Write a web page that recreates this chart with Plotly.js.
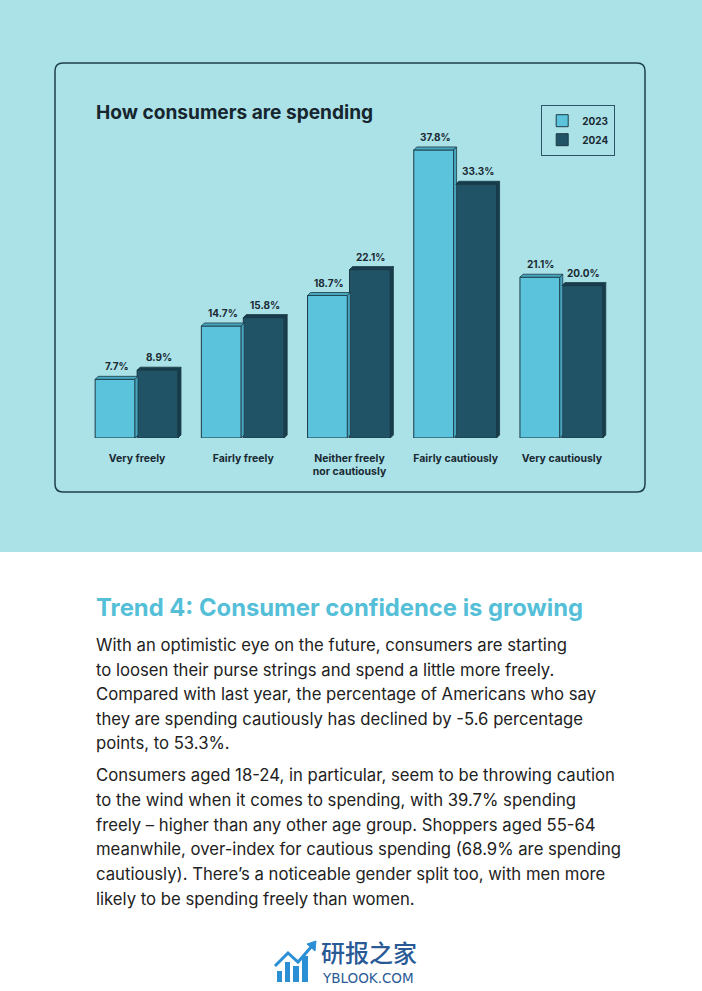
<!DOCTYPE html>
<html>
<head>
<meta charset="utf-8">
<script src="https://cdn.plot.ly/plotly-3.0.1.min.js"></script>
<style>
html,body{margin:0;padding:0;background:#fff;}
#chart{width:702px;height:991px;}
</style>
</head>
<body>
<div id="chart"></div>
<script>
// ---- data ----
const categories = ["Very freely", "Fairly freely", "Neither freely<br>nor cautiously", "Fairly cautiously", "Very cautiously"];
const series2023 = [7.7, 14.7, 18.7, 37.8, 21.1];
const series2024 = [8.9, 15.8, 22.1, 33.3, 20.0];
const seriesNames = ["2023", "2024"];

const chartTitle = "How consumers are spending";
const heading = "Trend 4: Consumer confidence is growing";
const para1 = [
  "With an optimistic eye on the future, consumers are starting",
  "to loosen their purse strings and spend a little more freely.",
  "Compared with last year, the percentage of Americans who say",
  "they are spending cautiously has declined by -5.6 percentage",
  "points, to 53.3%."
];
const para2 = [
  "Consumers aged 18-24, in particular, seem to be throwing caution",
  "to the wind when it comes to spending, with 39.7% spending",
  "freely – higher than any other age group. Shoppers aged 55-64",
  "meanwhile, over-index for cautious spending (68.9% are spending",
  "cautiously). There’s a noticeable gender split too, with men more",
  "likely to be spending freely than women."
];

// ---- helpers ----
const W = 702, H = 991;
const px = x => x / W;
const py = y => 1 - y / H;

const light = "#5BC3DB", lightSide = "#48a7bf";
const dark = "#215366", darkSide = "#163d4c";
const outline = "#1c3a46";
const FONT = "Inter, 'Open Sans', sans-serif";

const xIdx = categories.map((c, i) => i);
const W0 = 0.375, OFF0 = -0.395, W1 = 0.385, OFF1 = 0.0;

const fmt = v => v.toFixed(1) + "%";

const traces = [
  {
    type: "bar", name: seriesNames[0], x: xIdx, y: series2023,
    width: W0, offset: OFF0,
    marker: {color: light, line: {color: outline, width: 1}},
    hoverinfo: "skip"
  },
  {
    type: "bar", name: seriesNames[1], x: xIdx, y: series2024,
    width: W1, offset: OFF1,
    marker: {color: dark, line: {color: outline, width: 1}},
    hoverinfo: "skip"
  }
];

const xDomain = [px(84), px(615)];
const yRange = [0, 40];
const baseY = 438;
const topY = 133.2;
const pxPerUnitX = (615 - 84) / 5;
const pxPerUnitY = (baseY - topY) / 40;
const dx = 3 / pxPerUnitX, dy = 3 / pxPerUnitY;

const shapes = [];
// cyan background
shapes.push({type: "rect", xref: "paper", yref: "paper", x0: 0, x1: 1, y0: py(552), y1: 1,
  fillcolor: "#ABE2E8", line: {width: 0}, layer: "below"});
// rounded chart frame
(function(){
  const x0 = px(55), x1 = px(645), y0 = py(492), y1 = py(63);
  const rx = 8 / W, ry = 8 / H;
  const p = `M${x0+rx},${y1} L${x1-rx},${y1} Q${x1},${y1} ${x1},${y1-ry} L${x1},${y0+ry} Q${x1},${y0} ${x1-rx},${y0} L${x0+rx},${y0} Q${x0},${y0} ${x0},${y0+ry} L${x0},${y1-ry} Q${x0},${y1} ${x0+rx},${y1} Z`;
  shapes.push({type: "path", xref: "paper", yref: "paper", path: p,
    line: {color: "#1f3f4b", width: 1.5}, fillcolor: "rgba(0,0,0,0)", layer: "below"});
})();

const annotations = [];

// 3D faces and value labels derived from the data
function addFaces(vals, off, w, topCol, sideCol) {
  vals.forEach((v, i) => {
    const a = i + off, b = i + off + w;
    shapes.push({type: "path", xref: "x", yref: "y", layer: "above",
      path: `M${a},${v} L${a+dx},${v+dy} L${b+dx},${v+dy} L${b},${v} Z`,
      fillcolor: topCol, line: {color: outline, width: 0.8}});
    shapes.push({type: "path", xref: "x", yref: "y", layer: "above",
      path: `M${b},0 L${b+dx},${dy} L${b+dx},${v+dy} L${b},${v} Z`,
      fillcolor: sideCol, line: {color: outline, width: 0.8}});
    annotations.push({xref: "x", yref: "y", x: (a + b) / 2 + dx / 2, y: v + dy,
      xanchor: "center", yanchor: "bottom", yshift: 2, showarrow: false, text: fmt(v),
      font: {family: FONT, size: 10, color: "#1a2a33", weight: 700}});
  });
}
addFaces(series2023, OFF0, W0, lightSide, lightSide);
addFaces(series2024, OFF1, W1, darkSide, darkSide);

annotations.push({xref: "paper", yref: "paper", x: px(94), y: py(112), xanchor: "left", yanchor: "middle",
  text: chartTitle, showarrow: false, font: {family: FONT, size: 19.1, color: "#17262e", weight: 700}});
annotations.push({xref: "paper", yref: "paper", x: px(94), y: py(607), xanchor: "left", yanchor: "middle",
  text: heading, showarrow: false, font: {family: FONT, size: 23.8, color: "#55BFD8", weight: 700}});
para1.forEach((t, i) => annotations.push({xref: "paper", yref: "paper", x: px(94), y: py(645 + i * 24.5),
  xanchor: "left", yanchor: "middle", text: t, showarrow: false,
  font: {family: FONT, size: 16.7, color: "#222"}}));
para2.forEach((t, i) => annotations.push({xref: "paper", yref: "paper", x: px(94), y: py(775 + i * 24.8),
  xanchor: "left", yanchor: "middle", text: t, showarrow: false,
  font: {family: FONT, size: 16.7, color: "#222"}}));
// watermark
annotations.push({xref: "paper", yref: "paper", x: px(319), y: py(951), xanchor: "left", yanchor: "middle",
  text: "研报之家", showarrow: false, font: {family: "'Noto Sans CJK SC'", size: 24, color: "#2a5a96", weight: 500}});
annotations.push({xref: "paper", yref: "paper", x: px(320), y: py(978), xanchor: "left", yanchor: "middle",
  text: "YBLOOK.COM", showarrow: false, font: {family: "'DejaVu Sans'", size: 13.5, color: "#2a5a96"}});
// watermark icon (decoration)
const iconBars = [[277, 282, 971], [285, 290, 962], [293, 299, 966], [302, 308, 956]];
iconBars.forEach(b => shapes.push({type: "rect", xref: "paper", yref: "paper",
  x0: px(b[0]), x1: px(b[1]), y0: py(982), y1: py(b[2]), fillcolor: "#2b8fd6", line: {width: 0}}));
shapes.push({type: "path", xref: "paper", yref: "paper",
  path: `M${px(275)},${py(966)} L${px(288)},${py(953)} L${px(298)},${py(962)} L${px(312)},${py(946)}`,
  line: {color: "#2b8fd6", width: 3}, fillcolor: "rgba(0,0,0,0)"});
shapes.push({type: "path", xref: "paper", yref: "paper",
  path: `M${px(316)},${py(941)} L${px(315)},${py(951)} L${px(307)},${py(944)} Z`,
  line: {color: "#2b8fd6", width: 1}, fillcolor: "#2b8fd6"});

const layout = {
  width: W, height: H,
  margin: {l: 0, r: 0, t: 0, b: 0},
  paper_bgcolor: "#ffffff",
  plot_bgcolor: "rgba(0,0,0,0)",
  barmode: "overlay",
  showlegend: true,
  legend: {x: px(541), y: py(105), xanchor: "left", yanchor: "top",
    bgcolor: "rgba(0,0,0,0)", bordercolor: "#2b5566", borderwidth: 1.2,
    font: {family: FONT, size: 10, color: "#1a2a33", weight: 700},
    traceorder: "normal", itemwidth: 30, tracegroupgap: 0},
  xaxis: {domain: xDomain, range: [-0.5, 4.5], tickvals: xIdx, ticktext: categories,
    showgrid: false, zeroline: false, showline: false, ticks: "", ticklabelstandoff: 12,
    tickfont: {family: FONT, size: 10.5, color: "#1a2a33", weight: 700}, fixedrange: true},
  yaxis: {domain: [py(baseY), py(baseY) + (baseY - topY) / H], range: yRange, showgrid: false, zeroline: false,
    showticklabels: false, showline: false, fixedrange: true},
  shapes: shapes,
  annotations: annotations
};

Plotly.newPlot("chart", traces, layout, {staticPlot: true});
</script>
</body>
</html>
